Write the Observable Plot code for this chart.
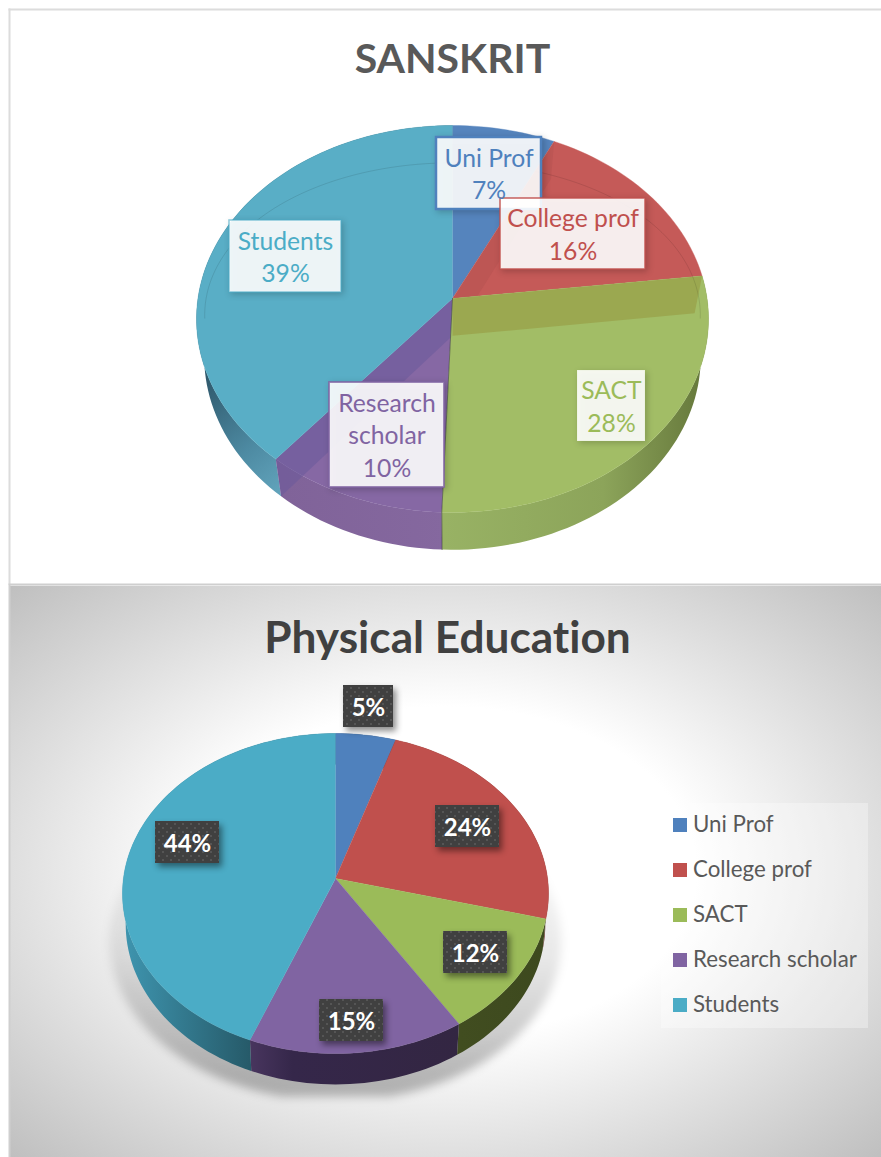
<!DOCTYPE html>
<html>
<head>
<meta charset="utf-8">
<script src="https://cdn.jsdelivr.net/npm/d3@7"></script>
<script src="https://cdn.jsdelivr.net/npm/@observablehq/plot@0.6"></script>
<style>
  html, body { margin: 0; padding: 0; background: #fff; width: 881px; height: 1157px; overflow: hidden; }
  #root { position: relative; width: 881px; height: 1157px; font-family: Lato, sans-serif; font-variant-ligatures: none; }
  #root svg { position: absolute; left: 0; display: block; overflow: hidden; font-family: Lato, sans-serif; font-variant-ligatures: none; }
  #legend { position: absolute; left: 661px; top: 803px; width: 207px; height: 225px; background: rgba(255,255,255,.32); }
  #legend .it { position: absolute; left: 12px; height: 14px; line-height: 12px; white-space: nowrap; font-size: 22.3px; color: #595959; padding-left: 20px; }
  #legend .it i { position: absolute; left: 0; top: 0; width: 14px; height: 14px; }
</style>
</head>
<body>
<div id="root"></div>
<script>
// ---- data ----
const categories = ["Uni Prof", "College prof", "SACT", "Research scholar", "Students"];
const sanskritValues = [7.2, 15.9, 27.5, 10.4, 39];
const physicalValues = [5, 24, 12, 15, 44];
const sanskritTitle = "SANSKRIT";
const physicalTitle = "Physical Education";
const sanskritLabelNames = ["Uni Prof", "College prof", "SACT", "Research\nscholar", "Students"];

// ---- colours ----
const officeColors = ["#4f81bd", "#c0504d", "#9bbb59", "#8064a2", "#4bacc6"];
const sanskritFaces = ["#5584bd", "#c55a58", "#a2bd66", "#8668a4", "#59aec6"];
const sanskritBorderOpacity = [1, 0.85, 0.12, 0.85, 0.6];
const sanskritBorderWidth = [2.5, 1.6, 1, 1.8, 1.6];

// ---- layout (page pixels) ----
const topPanelH = 585, botTop = 585, botPanelH = 572;
const topPie = {cx: 452, cy: 298, rx: 256, k: 0.106, a: 191.3, taper: 0.97, drop: 0.195};
const botPie = {cx: 335, cy: 878 - botTop, rx: 213, k: 0.0938, a: 158.6, taper: 0.985, drop: 0.195};
const sanskritBoxes = [[436,541,137,209],[500,645,198,269],[577,645,370,441],[329,444,382,487],[229,341,220,292]];
const physicalBoxes = [[343,393,685,727],[435,499,805,847],[443,507,931,973],[319,383,999,1041],[155,219,821,863]];

// ---- geometry ----
const R = p => p.rx * Math.sqrt(1 - p.k * p.k);
function rim(pie, pct, taper = 1, drop = 0) {
  const t = pct / 100 * 2 * Math.PI, c = Math.cos(t), d = 1 + pie.k * c;
  return [taper * Math.sin(t) / d, c / d - drop];
}
function arc(pie, a, b, taper = 1, drop = 0) {
  const pts = [], n = Math.max(2, Math.ceil(Math.abs(b - a) * 2));
  for (let i = 0; i <= n; ++i) pts.push(rim(pie, a + (b - a) * i / n, taper, drop));
  return pts;
}
function cumulative(values) { let s = 0; return values.map(v => [s, s += v]); }
const rows = (cat, pts) => pts.map(([x, y]) => ({cat, x, y}));
const sliceRows = (pie, cat, a, b) => rows(cat, [[0, 0], ...arc(pie, a, b)]);
const wallRows = (pie, cat, a, b) => rows(cat, [...arc(pie, a, b), ...arc(pie, b, a, pie.taper, pie.drop)]);
const bandRows = (pie, cat, p) => rows(cat, [[0, 0], rim(pie, p), rim(pie, p, pie.taper, pie.drop), [0, -pie.drop]]);
const toX = (pie, px) => (px - pie.cx) / R(pie);
const toY = (pie, py) => (pie.cy - py) / pie.a;
const poly = (r, o) => Plot.line(r, {x: "x", y: "y", curve: "linear", ...o});
const defs = html => () => { const g = d3.create("svg:g"); g.html(html); return g.node(); };
const scales = pie => ({
  x: {domain: [-1, 1], range: [pie.cx - R(pie), pie.cx + R(pie)]},
  y: {domain: [-1, 1], range: [pie.cy + pie.a, pie.cy - pie.a]}
});

// ---- SANSKRIT ----
function drawTop() {
  const p = topPie, sp = cumulative(sanskritValues);
  const face = i => poly(sliceRows(p, categories[i], sp[i][0], sp[i][1]), {z: "cat", fill: "cat", stroke: "cat", strokeWidth: 0.4});
  const wall = (i, id) => poly(wallRows(p, categories[i], sp[i][0], sp[i][1]), {fill: `url(#${id})`, stroke: "none"});
  const labels = categories.map((c, i) => ({
    cat: c, color: officeColors[i],
    text: `${sanskritLabelNames[i]}\n${Math.round(sanskritValues[i])}%`,
    x1: toX(p, sanskritBoxes[i][0]), x2: toX(p, sanskritBoxes[i][1]),
    y1: toY(p, sanskritBoxes[i][2]), y2: toY(p, sanskritBoxes[i][3]),
    x: toX(p, (sanskritBoxes[i][0] + sanskritBoxes[i][1]) / 2),
    y: toY(p, (sanskritBoxes[i][2] + sanskritBoxes[i][3]) / 2),
    bo: sanskritBorderOpacity[i], bw: sanskritBorderWidth[i]
  }));
  const faint = rows("faint", d3.range(-27, 27.5, 0.5).map(q => {
    const [x, y] = rim(p, q, 0.968, 0);
    return [x, y - p.drop * Math.cos(q / 100 * 2 * Math.PI)];
  }));
  const svg = Plot.plot({
    width: 881, height: topPanelH, margin: 0, marginLeft: 9, marginTop: 9, marginBottom: 1,
    ...scales(p), axis: null,
    color: {domain: categories, range: sanskritFaces},
    marks: [
      defs(`<defs>
        <linearGradient id="tWallT" gradientUnits="userSpaceOnUse" x1="200" x2="285" y1="380" y2="490"><stop offset="0" stop-color="#2f586b"/><stop offset=".6" stop-color="#4d8aa2"/><stop offset="1" stop-color="#62a4bc"/></linearGradient>
        <linearGradient id="tWallP" gradientUnits="userSpaceOnUse" x1="283" x2="445" y1="0" y2="0"><stop offset="0" stop-color="#806399"/><stop offset="1" stop-color="#85689f"/></linearGradient>
        <linearGradient id="tWallG" gradientUnits="userSpaceOnUse" x1="445" x2="708" y1="0" y2="0"><stop offset="0" stop-color="#98b264"/><stop offset=".6" stop-color="#8ca45a"/><stop offset="1" stop-color="#64763a"/></linearGradient>
        <linearGradient id="tWallB" x1="0" x2="1" y1="0" y2="0"><stop offset="0" stop-color="#4f81bd"/><stop offset="1" stop-color="#4f81bd"/></linearGradient>
      </defs>`),
      Plot.frame({anchor: "left", stroke: "#dcdcdc", strokeWidth: 2}),
      Plot.frame({anchor: "top", stroke: "#dcdcdc", strokeWidth: 2}),
      Plot.frame({anchor: "bottom", stroke: "#cfcfcf", strokeWidth: 2}),
      wall(4, "tWallT"), wall(3, "tWallP"), wall(2, "tWallG"),
      face(0), face(1),
      poly(bandRows(p, "band", sp[0][1]), {fill: "#a84a4a", fillOpacity: 0.28, stroke: "none"}),
      face(3),
      poly(bandRows(p, "band", sp[3][1]), {fill: "#6a5a9a", fillOpacity: 0.55, stroke: "none"}),
      face(2),
      poly(bandRows(p, "band", sp[1][1]), {fill: "#9aa54e", fillOpacity: 0.9, stroke: "none"}),
      face(4),
      poly(faint, {stroke: "#000", strokeOpacity: 0.13, strokeWidth: 0.8}),
      poly(rows("edge", [[0, 0], rim(p, sp[2][1]), rim(p, sp[2][1], p.taper, p.drop)]), {stroke: "#3a3f3a", strokeOpacity: 0.65, strokeWidth: 0.9}),
      Plot.rect(labels, {
        x1: "x1", x2: "x2", y1: "y1", y2: "y2",
        fill: "#fff", fillOpacity: 0.9,
        stroke: {value: "color", scale: null}, strokeWidth: "bw", strokeOpacity: "bo",
        imageFilter: "drop-shadow(2px 2px 3px rgba(0,0,0,.22))"
      }),
      Plot.text(labels, {
        x: "x", y: "y", text: "text", dy: -1,
        fill: {value: "color", scale: null},
        fontSize: 24.7, lineHeight: 1.31, textAnchor: "middle", lineAnchor: "middle"
      }),
      Plot.text([sanskritTitle], {
        frameAnchor: "top", dx: 7, dy: 34, fontSize: 41, fontWeight: 700, fill: "#595959", lineAnchor: "top"
      })
    ]
  });
  svg.style.top = "0px";
  return svg;
}

// ---- Physical Education ----
function drawBottom() {
  const p = botPie, sp = cumulative(physicalValues);
  const labels = categories.map((c, i) => ({
    cat: c, text: `${physicalValues[i]}%`,
    x1: toX(p, physicalBoxes[i][0]), x2: toX(p, physicalBoxes[i][1]),
    y1: toY(p, physicalBoxes[i][2] - botTop), y2: toY(p, physicalBoxes[i][3] - botTop),
    x: toX(p, (physicalBoxes[i][0] + physicalBoxes[i][1]) / 2),
    y: toY(p, (physicalBoxes[i][2] + physicalBoxes[i][3]) / 2 - botTop)
  }));
  const yFloor = toY(p, 1096 - botTop);
  const shadow = rows("s", arc(p, 0, 100, 1.06, 0.3).map(([x, y]) => [x, Math.max(y, yFloor)]));
  const wallIds = ["bWallB", "bWallR", "bWallG", "bWallP", "bWallT"];
  const svg = Plot.plot({
    width: 881, height: botPanelH, margin: 0, marginLeft: 9,
    ...scales(p), axis: null,
    color: {domain: categories, range: officeColors},
    marks: [
      defs(`<defs>
        <radialGradient id="bBg" cx=".5" cy=".5" r=".72"><stop offset=".4" stop-color="#fff"/><stop offset="1" stop-color="#bdbdbd"/></radialGradient>
        <linearGradient id="bShadow" gradientUnits="userSpaceOnUse" x1="0" x2="0" y1="230" y2="490"><stop offset="0" stop-color="#000" stop-opacity="0"/><stop offset=".55" stop-color="#000" stop-opacity=".09"/><stop offset="1" stop-color="#000" stop-opacity=".26"/></linearGradient>
        <linearGradient id="bWallT" gradientUnits="userSpaceOnUse" x1="125" x2="250" y1="0" y2="0"><stop offset="0" stop-color="#3e94ae"/><stop offset="1" stop-color="#265a69"/></linearGradient>
        <linearGradient id="bWallP" gradientUnits="userSpaceOnUse" x1="250" x2="460" y1="0" y2="0"><stop offset="0" stop-color="#48355e"/><stop offset=".2" stop-color="#35274a"/><stop offset="1" stop-color="#332642"/></linearGradient>
        <linearGradient id="bWallG" gradientUnits="userSpaceOnUse" x1="460" x2="548" y1="0" y2="0"><stop offset="0" stop-color="#414d20"/><stop offset="1" stop-color="#3d491e"/></linearGradient>
        <linearGradient id="bWallR" gradientUnits="userSpaceOnUse" x1="0" x2="1" y1="0" y2="0"><stop offset="0" stop-color="#6b2b29"/><stop offset="1" stop-color="#6b2b29"/></linearGradient>
        <linearGradient id="bWallB" gradientUnits="userSpaceOnUse" x1="0" x2="1" y1="0" y2="0"><stop offset="0" stop-color="#2b4668"/><stop offset="1" stop-color="#2b4668"/></linearGradient>
        <pattern id="bDots" patternUnits="userSpaceOnUse" width="8" height="8"><rect width="8" height="8" fill="#404040"/><rect x="2" y="2" width="2" height="2" fill="#555"/><rect x="6" y="6" width="2" height="2" fill="#555"/></pattern>
      </defs>`),
      Plot.frame({fill: "url(#bBg)", stroke: "none"}),
      Plot.frame({anchor: "left", stroke: "#cfcfcf", strokeWidth: 2}),
      poly(shadow, {fill: "url(#bShadow)", stroke: "none", imageFilter: "blur(5px)"}),
      ...categories.map((c, i) => poly(wallRows(p, c, sp[i][0], sp[i][1]), {fill: `url(#${wallIds[i]})`, stroke: "none"})),
      ...categories.map((c, i) => poly(sliceRows(p, c, sp[i][0], sp[i][1]), {z: "cat", fill: "cat", stroke: "cat", strokeWidth: 0.4})),
      Plot.rect(labels, {
        x1: "x1", x2: "x2", y1: "y1", y2: "y2", fill: "url(#bDots)", stroke: "none",
        imageFilter: "drop-shadow(3px 4px 3px rgba(0,0,0,.45))"
      }),
      Plot.text(labels, {x: "x", y: "y", text: "text", dy: 1.5, fill: "#fff", fontSize: 24, fontWeight: 700, textAnchor: "middle", lineAnchor: "middle"}),
      Plot.text([physicalTitle], {
        frameAnchor: "top", dx: 2, dy: 36, fontSize: 44.2, fontWeight: 700, fill: "#404040", lineAnchor: "top"
      })
    ]
  });
  svg.style.top = botTop + "px";
  return svg;
}

const root = document.getElementById("root");
root.append(drawTop(), drawBottom());

// legend of the lower chart
const legend = document.createElement("div");
legend.id = "legend";
const legendTops = [15, 60, 105, 150, 195];
categories.forEach((c, i) => {
  const it = document.createElement("div");
  it.className = "it";
  it.style.top = legendTops[i] + "px";
  it.innerHTML = `<i style="background:${officeColors[i]}"></i>${c}`;
  legend.append(it);
});
root.append(legend);
</script>
</body>
</html>
